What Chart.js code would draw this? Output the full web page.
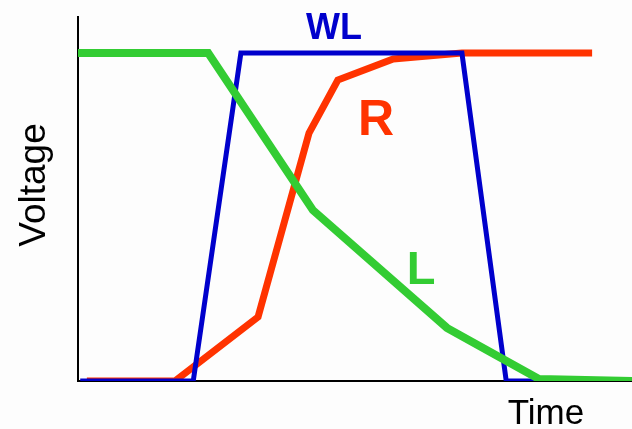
<!DOCTYPE html>
<html>
<head>
<meta charset="utf-8">
<script src="https://cdn.jsdelivr.net/npm/chart.js@4.4.0/dist/chart.umd.min.js"></script>
<style>
  html, body { margin: 0; padding: 0; background: #fdfdfd; }
  #wrap { width: 632px; height: 429px; position: relative; }
</style>
</head>
<body>
<div id="wrap"><canvas id="chart"></canvas></div>
<script>
// Word line / bit line timing sketch. x: time (0-100), y: voltage (0 = low, 1 = high)
const wlTime = [0.4, 20.8, 29.4, 69.3, 77.3, 97.8];
const wlVolt = [0, 0, 1, 1, 0, 0];

const rTime = [1.6, 17.5, 32.5, 41.7, 46.9, 56.9, 69.3, 92.8];
const rVolt = [0, 0, 0.195, 0.756, 0.918, 0.982, 1, 1];

const lTime = [0, 23.5, 42.4, 66.6, 83.2, 100];
const lVolt = [1, 1, 0.521, 0.162, 0.006, 0];

const seriesNames = ["WL", "R", "L"];

const FONT = "'Liberation Sans', Arial, sans-serif";
const toPoints = (xs, ys) => xs.map((x, i) => ({ x: x, y: ys[i] }));

// text labels drawn on top of the plot
const textPlugin = {
    id: "sketchText",
    afterDraw(chart) {
        const ctx = chart.ctx;
        ctx.save();
        ctx.textBaseline = "alphabetic";
        ctx.textAlign = "center";

        ctx.fillStyle = "#0000cc";
        ctx.font = "bold 36px " + FONT;
        ctx.fillText(seriesNames[0], 334, 39);

        ctx.fillStyle = "#ff3300";
        ctx.font = "bold 50px " + FONT;
        ctx.fillText(seriesNames[1], 376, 135);

        ctx.fillStyle = "#33cc33";
        ctx.font = "bold 47px " + FONT;
        ctx.fillText(seriesNames[2], 421, 284);

        // axis titles
        ctx.fillStyle = "#000";
        ctx.font = "35px " + FONT;
        ctx.fillText("Time", 546, 424);

        ctx.translate(45, 185);
        ctx.rotate(-Math.PI / 2);
        ctx.font = "37px " + FONT;
        ctx.fillText("Voltage", 0, 0);
        ctx.restore();
    }
};

const lineSet = (label, xs, ys, color, width) => ({
    label: label,
    data: toPoints(xs, ys),
    borderColor: color,
    backgroundColor: color,
    borderWidth: width,
    pointRadius: 0,
    tension: 0,
    fill: false,
    borderJoinStyle: "miter",
    borderCapStyle: "butt",
});

new Chart(document.getElementById("chart"), {
    type: "line",
    data: {
        datasets: [
            lineSet(seriesNames[2], lTime, lVolt, "#33cc33", 8),
            lineSet(seriesNames[0], wlTime, wlVolt, "#0000cc", 5),
            lineSet(seriesNames[1], rTime, rVolt, "#ff3300", 7),
        ]
    },
    options: {
        responsive: true,
        maintainAspectRatio: false,
        animation: false,
        layout: { padding: { top: 17, right: 0, left: 0, bottom: 0 } },
        plugins: {
            legend: { display: false },
            tooltip: { enabled: false },
        },
        scales: {
            x: {
                type: "linear",
                min: 0,
                max: 100,
                grid: { display: false },
                ticks: { display: false },
                border: { display: true, color: "#000", width: 2 },
                afterFit: (s) => { s.height = 48; },
            },
            y: {
                min: 0,
                max: 1.11,
                grid: { display: false },
                ticks: { display: false },
                border: { display: true, color: "#000", width: 2 },
                afterFit: (s) => { s.width = 78; },
            },
        },
    },
    plugins: [textPlugin],
});
</script>
</body>
</html>
